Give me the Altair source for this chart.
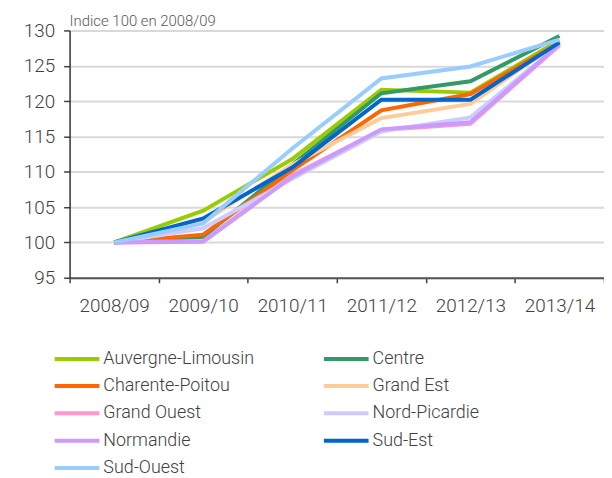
import altair as alt
import pandas as pd

years = ["2008/09", "2009/10", "2010/11", "2011/12", "2012/13", "2013/14"]

regions = ["Auvergne-Limousin", "Centre", "Charente-Poitou", "Grand Est",
           "Grand Ouest", "Nord-Picardie", "Normandie", "Sud-Est", "Sud-Ouest"]

auvergne = [100, 104.5, 111.8, 121.6, 121.2, 128.6]
centre = [100, 100.8, 111.0, 121.1, 122.8, 129.2]
charente = [100, 101.1, 110.2, 118.7, 121.0, 128.3]
grand_est = [100, 102.9, 111.0, 117.6, 119.6, 128.4]
grand_ouest = [100, 100.2, 109.5, 115.9, 116.8, 127.9]
nord_picardie = [100, 102.0, 109.0, 115.7, 117.7, 128.0]
normandie = [100, 100.1, 109.3, 116.0, 117.0, 128.0]
sud_est = [100, 103.4, 110.6, 120.2, 120.2, 128.3]
sud_ouest = [100, 102.7, 113.3, 123.2, 124.9, 128.7]

colors = ["#99cc00", "#339966", "#ff6600", "#ffcc99", "#ff99cc",
          "#ccccff", "#cc99ff", "#0066cc", "#99ccff"]

series = [auvergne, centre, charente, grand_est, grand_ouest,
          nord_picardie, normandie, sud_est, sud_ouest]

subtitle = ["Indice 100 en 2008/09"]

rows = []
for r, vals in zip(regions, series):
    for y, v in zip(years, vals):
        rows.append({"region": r, "year": y, "value": v})
df = pd.DataFrame(rows)

FONT = "Roboto"
TXT = "#404040"

lines = alt.Chart(df).mark_line(strokeWidth=4).encode(
    x=alt.X("year:N", sort=years, title=None,
            scale=alt.Scale(paddingInner=0, paddingOuter=0),
            axis=alt.Axis(labelAngle=0, tickBand="extent", grid=False,
                          labelFontSize=19, labelFont=FONT, labelColor=TXT,
                          labelFontWeight=300,
                          labelPadding=14, tickSize=5, tickColor="#404040",
                          domainColor="#555555", domainWidth=2, tickWidth=1.5)),
    y=alt.Y("value:Q", title=None,
            scale=alt.Scale(domain=[95, 130], nice=False, zero=False),
            axis=alt.Axis(values=list(range(95, 131, 5)), grid=True,
                          gridColor="#d9d9d9", gridWidth=2,
                          labelFontSize=19, labelFont=FONT, labelColor=TXT,
                          labelFontWeight=300,
                          labelPadding=9, tickSize=6, tickColor="#404040",
                          domainColor="#333333", domainWidth=1.5, tickWidth=1.5)),
    color=alt.Color("region:N", sort=regions,
                    scale=alt.Scale(domain=regions, range=colors),
                    legend=alt.Legend(title=None, orient="none", legendX=-6,
                                      legendY=317, columns=2, columnPadding=62,
                                      direction="horizontal",
                                      rowPadding=4.5, symbolType="M-2,0H2",
                                      symbolSize=506, symbolStrokeWidth=4,
                                      labelFontSize=18, labelFont=FONT,
                                      labelFontWeight=300,
                                      labelColor=TXT, labelOffset=13,
                                      labelLimit=300)),
)

title_text = alt.Chart(pd.DataFrame({"t": subtitle})).mark_text(
    align="left", baseline="alphabetic", fontSize=15, font=FONT,
    fontWeight=300, color="#595959"
).encode(text="t:N", x=alt.value(0), y=alt.value(-4))

chart = alt.layer(lines, title_text).properties(
    width=538,
    height=249,
    autosize=alt.AutoSizeParams(type="none"),
    padding={"left": 62, "top": 21, "right": 0, "bottom": 200},
).configure_view(stroke=None)

chart.save("out.html", embed_options={"renderer": "svg", "actions": False})
